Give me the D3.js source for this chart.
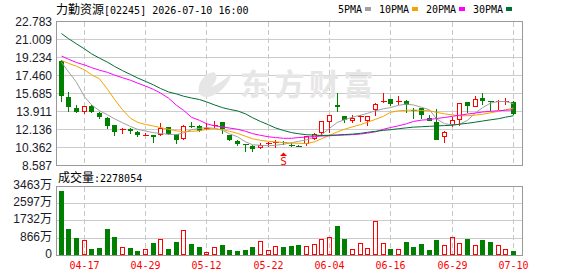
<!DOCTYPE html>
<html>
<head>
<meta charset="utf-8">
<script src="https://cdn.jsdelivr.net/npm/d3@7"></script>
<style>
  body { margin: 0; background: #fff; }
  svg { display: block; }
</style>
</head>
<body>
<div id="chart"></div>
<script>
// trading days shown on the chart
var dates = ["04-14","04-15","04-16","04-17","04-20","04-21","04-22","04-23","04-24","04-27",
  "04-28","04-29","04-30","05-04","05-05","05-06","05-07","05-08","05-11","05-12",
  "05-13","05-14","05-15","05-18","05-19","05-20","05-21","05-22","05-26","05-27",
  "05-28","05-29","06-01","06-02","06-03","06-04","06-05","06-08","06-09","06-10",
  "06-11","06-12","06-15","06-16","06-17","06-18","06-22","06-23","06-24","06-25",
  "06-26","06-29","06-30","07-02","07-03","07-06","07-07","07-08","07-09","07-10"];

var opens = [18.84,15.33,14.25,13.91,14.45,13.81,13.29,12.55,12.18,12.20,
  11.92,11.60,11.60,11.58,12.36,11.68,11.19,12.52,12.52,12.28,
  12.50,12.90,11.60,11.04,10.72,10.55,10.32,10.75,10.86,10.86,
  10.62,10.55,10.70,11.16,11.75,12.83,14.57,13.42,12.99,13.42,
  13.02,14.08,14.94,15.16,14.94,14.97,14.10,14.25,13.26,12.89,
  11.39,12.60,13.09,14.80,14.40,15.23,14.92,14.86,14.88,14.84];
var highs = [18.95,15.82,14.57,14.50,14.52,13.90,13.33,12.62,12.26,12.24,
  12.02,11.82,11.63,12.82,12.42,11.74,12.60,12.90,12.60,12.80,
  13.00,12.92,11.64,11.08,10.74,10.58,10.84,10.94,11.10,11.00,
  10.80,10.62,11.48,11.75,12.98,13.52,15.78,13.45,13.52,13.60,
  13.45,14.72,15.72,15.18,15.39,15.02,14.22,14.30,13.58,14.15,
  11.95,13.40,14.76,14.84,15.39,15.72,14.97,15.06,15.20,14.90];
var lows = [14.84,13.85,13.78,13.68,13.74,13.19,12.17,11.45,11.68,11.72,
  11.43,11.45,10.80,11.48,11.64,10.73,11.12,12.26,11.92,12.08,
  12.26,11.66,11.02,10.52,9.95,9.89,10.26,10.44,10.30,10.62,
  10.42,10.40,10.55,11.10,11.50,11.75,13.87,12.77,12.77,12.92,
  12.50,13.49,14.74,14.47,14.57,13.75,13.20,13.20,12.98,11.07,
  10.85,12.42,12.45,13.75,14.35,14.57,13.98,14.08,14.60,13.55];
var closes = [15.39,14.40,13.91,14.47,13.82,13.32,12.50,11.88,12.22,12.00,
  11.55,11.62,11.36,12.33,11.72,11.12,12.52,12.48,12.02,12.32,
  12.56,12.15,11.10,10.68,10.66,10.25,10.60,10.78,10.90,10.82,
  10.60,10.53,11.45,11.65,12.96,13.52,14.31,13.09,13.26,13.50,
  13.42,14.67,14.98,14.67,14.98,14.57,14.02,13.55,13.02,11.15,
  11.91,13.09,14.74,14.50,15.16,14.90,14.88,14.90,14.93,13.62];

// volume in 万 (10k shares)
var volumes = [3246,1328,888,772,318,384,1328,939,419,368,
  217,318,621,808,333,671,1262,570,434,151,
  419,520,268,217,268,419,722,252,469,419,
  469,520,469,555,823,924,1479,823,318,606,
  353,1731,606,318,318,671,419,570,268,772,
  520,924,636,823,520,772,671,520,318,227.8054];

var ma5 = [18.76,17.82,16.79,15.36,14.57,13.98,13.59,13.19,12.80,12.43,
  12.16,11.98,11.83,11.73,11.66,11.63,11.81,12.11,12.25,12.32,
  12.25,12.06,11.71,11.42,10.92,10.63,10.58,10.53,10.58,10.68,
  10.83,10.97,11.12,11.37,11.61,12.25,12.85,13.09,13.36,13.54,
  13.73,13.98,14.18,14.30,14.52,14.64,14.55,14.33,14.08,13.19,
  12.70,12.60,12.65,13.04,13.78,14.28,14.74,14.90,14.90,14.67];
var ma10 = [18.94,18.66,18.37,18.02,17.53,17.13,16.10,15.11,14.08,13.24,
  12.85,12.63,12.48,12.33,12.16,12.01,11.91,11.95,12.01,12.15,
  12.21,12.11,11.96,11.76,11.47,11.22,11.07,10.97,10.92,10.85,
  10.80,10.78,10.75,10.92,11.22,11.56,11.91,12.16,12.40,12.62,
  12.85,13.14,13.44,13.83,13.98,14.03,14.05,14.01,13.98,13.83,
  13.68,13.57,13.49,13.49,13.56,13.64,13.78,13.93,14.08,14.25];
var ma20 = [19.38,19.06,18.74,18.50,18.24,17.98,17.77,17.50,17.24,16.99,
  16.71,16.42,16.09,15.73,15.23,14.52,14.03,13.34,13.04,12.70,
  12.50,12.38,12.28,12.16,11.96,11.73,11.56,11.42,11.34,11.27,
  11.27,11.34,11.39,11.45,11.49,11.52,11.56,11.59,11.63,11.69,
  11.78,11.91,12.16,12.33,12.50,12.70,12.93,13.06,13.12,13.22,
  13.32,13.44,13.54,13.66,13.76,13.86,13.93,13.99,14.03,14.08];
var ma30 = [21.59,21.09,20.58,20.08,19.60,19.17,18.77,18.36,17.94,17.56,
  17.22,16.88,16.53,16.18,15.84,15.64,15.42,15.24,15.09,14.86,
  14.56,14.29,14.12,13.97,13.68,13.30,12.93,12.60,12.29,12.04,
  11.83,11.72,11.62,11.58,11.55,11.56,11.60,11.64,11.68,11.76,
  11.86,11.96,12.05,12.12,12.21,12.30,12.37,12.41,12.45,12.49,
  12.52,12.56,12.66,12.75,12.86,12.97,13.09,13.20,13.35,13.49];

var priceTicks = [8.587,10.362,12.136,13.911,15.685,17.460,19.234,21.009,22.783];
var volTicks = [0,866,1732,2597,3463];
var dateTicks = [3,11,19,27,35,43,51,59];
var maNames = ["5PMA","10PMA","20PMA","30PMA"];
var maColors = ["#a0a0a0","#f5a300","#ff00ff","#006f34"];

var svgWidth = 578, svgHeight = 276;
var left = 56.5, right = 522.5;
var priceTop = 21.5, priceBottom = 165.5;
var volTop = 186.5, volBottom = 255.5;
var red = "#ff0000", green = "#008000";
var monoFont = "'DejaVu Sans Mono', monospace";
var cjkFont = "'Noto Sans CJK SC', sans-serif";
var numFont = "'Liberation Sans', Arial, 'Noto Sans CJK SC', sans-serif";

var svg = d3.select("#chart").append("svg")
  .attr("width", svgWidth)
  .attr("height", svgHeight);

var x = d3.scaleLinear().domain([0, dates.length - 1]).range([60.7, 513.1]);
var y = d3.scaleLinear().domain([priceTicks[0], priceTicks[priceTicks.length - 1]]).range([priceBottom, priceTop]);
var yVol = d3.scaleLinear().domain([0, volTicks[volTicks.length - 1]]).range([volBottom, volTop]);
var px = function(i) { return Math.round(x(i)) + 0.5; };
var crisp = function(v) { return Math.floor(v) + 0.5; };

// grid
var grid = svg.append("g").attr("shape-rendering", "crispEdges");
grid.selectAll(".hp").data(priceTicks.slice(1, -1)).enter().append("line")
  .attr("x1", left).attr("x2", right)
  .attr("y1", d => crisp(y(d))).attr("y2", d => crisp(y(d)))
  .attr("stroke", "#cccccc");
grid.selectAll(".hv").data(volTicks.slice(1, -1)).enter().append("line")
  .attr("x1", left).attr("x2", right)
  .attr("y1", d => crisp(yVol(d))).attr("y2", d => crisp(yVol(d)))
  .attr("stroke", "#cccccc");
[[priceTop, priceBottom], [volTop, volBottom]].forEach(function(p) {
  grid.selectAll(null).data(dateTicks).enter().append("line")
    .attr("x1", d => px(d)).attr("x2", d => px(d))
    .attr("y1", p[0]).attr("y2", p[1])
    .attr("stroke", "#c8c8c8")
    .attr("stroke-dasharray", "5,3");
});

// watermark
var wm = svg.append("g").attr("fill", "#e6e6e6");
wm.append("path")
  .attr("d", "M214,72 C203,74 197,84 199,93 C201,98 208,98 214,95 C224,90 231,80 231,73 C226,79 219,84 211,87 C216,82 219,77 214,72 Z");
wm.append("text")
  .attr("x", 240).attr("y", 95)
  .attr("font-family", cjkFont).attr("font-size", 30).attr("font-weight", "bold")
  .attr("letter-spacing", 4.5)
  .text("东方财富");

// panel borders
svg.append("rect").attr("x", left).attr("y", priceTop)
  .attr("width", right - left).attr("height", priceBottom - priceTop)
  .attr("fill", "none").attr("stroke", "#999").attr("shape-rendering", "crispEdges");
svg.append("rect").attr("x", left).attr("y", volTop)
  .attr("width", right - left).attr("height", volBottom - volTop)
  .attr("fill", "none").attr("stroke", "#999").attr("shape-rendering", "crispEdges");

// candles
var candles = svg.append("g").attr("shape-rendering", "crispEdges");
dates.forEach(function(d, i) {
  var up = closes[i] >= opens[i];
  var color = up ? red : green;
  var cx = px(i);
  var yh = y(highs[i]), yl = y(lows[i]);
  var top = Math.round(Math.min(y(opens[i]), y(closes[i])));
  var bot = Math.round(Math.max(y(opens[i]), y(closes[i])));
  if (bot - top <= 1) {
    candles.append("line").attr("x1", cx).attr("x2", cx).attr("y1", yh).attr("y2", yl).attr("stroke", color);
    candles.append("line").attr("x1", cx - 3).attr("x2", cx + 3).attr("y1", top + 0.5).attr("y2", top + 0.5).attr("stroke", color);
  } else if (up) {
    candles.append("line").attr("x1", cx).attr("x2", cx).attr("y1", yh).attr("y2", top).attr("stroke", color);
    candles.append("line").attr("x1", cx).attr("x2", cx).attr("y1", bot).attr("y2", yl).attr("stroke", color);
    candles.append("rect").attr("x", cx - 2).attr("y", top + 0.5)
      .attr("width", 4).attr("height", bot - top - 1)
      .attr("fill", "#fff").attr("stroke", color);
  } else {
    candles.append("line").attr("x1", cx).attr("x2", cx).attr("y1", yh).attr("y2", yl).attr("stroke", color);
    candles.append("rect").attr("x", cx - 2.5).attr("y", top)
      .attr("width", 5).attr("height", bot - top)
      .attr("fill", color);
  }
});

// moving averages
var maLine = d3.line().x((d, i) => px(i)).y(d => y(d));
[ma5, ma10, ma20, ma30].forEach(function(series, k) {
  svg.append("path").datum(series)
    .attr("d", maLine)
    .attr("fill", "none")
    .attr("stroke", maColors[k])
    .attr("stroke-width", 1);
});

// marker under the candle of 05-27
var markIndex = 29;
svg.append("path")
  .attr("d", `M${px(markIndex)},152.5 L${px(markIndex) + 3.5},156 L${px(markIndex) - 3.5},156 Z`)
  .attr("fill", red);
svg.append("text")
  .attr("x", px(markIndex)).attr("y", 165)
  .attr("text-anchor", "middle")
  .attr("font-family", monoFont).attr("font-size", 11)
  .attr("fill", red)
  .text("S");

// volume bars
var vols = svg.append("g").attr("shape-rendering", "crispEdges");
volumes.forEach(function(v, i) {
  var up = closes[i] >= opens[i];
  var cx = px(i);
  var top = Math.round(yVol(v));
  if (up) {
    vols.append("rect").attr("x", cx - 2).attr("y", top + 0.5)
      .attr("width", 4).attr("height", Math.max(0, 255 - top - 1))
      .attr("fill", "none").attr("stroke", red);
  } else {
    vols.append("rect").attr("x", cx - 2.5).attr("y", top)
      .attr("width", 5).attr("height", 255 - top)
      .attr("fill", green);
  }
});

// axes
var priceAxis = svg.append("g")
  .attr("transform", `translate(${left - 0.5},0)`)
  .call(d3.axisLeft(y).tickValues(priceTicks).tickSize(0).tickPadding(4).tickFormat(d3.format(".3f")));
var volAxis = svg.append("g")
  .attr("transform", `translate(${left - 0.5},-2)`)
  .call(d3.axisLeft(yVol).tickValues(volTicks).tickSize(0).tickPadding(4)
    .tickFormat(d => d === 0 ? "0" : d + "万"));
[priceAxis, volAxis].forEach(function(a) {
  a.select(".domain").remove();
  a.selectAll("text").attr("font-family", numFont).attr("font-size", 12).attr("fill", "#1a1a2a");
});

var dateAxis = svg.append("g")
  .attr("transform", `translate(0,${volBottom})`)
  .call(d3.axisBottom(x).tickValues(dateTicks).tickSize(0).tickPadding(6).tickFormat(i => dates[i]));
dateAxis.select(".domain").remove();
dateAxis.selectAll(".tick").attr("transform", d => `translate(${px(d)},0)`);
dateAxis.selectAll("text").attr("font-family", monoFont).attr("font-size", 10).attr("fill", red);

// title
var title = svg.append("text").attr("x", 56).attr("y", 14).attr("fill", "#000");
title.append("tspan").attr("font-family", cjkFont).attr("font-size", 12).text("力勤资源");
title.append("tspan").attr("font-family", monoFont).attr("font-size", 10).text("[02245] 2026-07-10 16:00");

// legend
var lx = 338;
maNames.forEach(function(name, k) {
  svg.append("text").attr("x", lx).attr("y", 13)
    .attr("font-family", monoFont).attr("font-size", 10).attr("fill", "#000")
    .text(name);
  var sq = lx + name.length * 6 + 3;
  svg.append("rect").attr("x", sq).attr("y", 7).attr("width", 6).attr("height", 4)
    .attr("fill", maColors[k]);
  lx = sq + 6 + 8;
});

// volume label
var volLabel = svg.append("text").attr("x", 58).attr("y", 182).attr("fill", "#000");
volLabel.append("tspan").attr("font-family", cjkFont).attr("font-size", 12).text("成交量");
volLabel.append("tspan").attr("font-family", monoFont).attr("font-size", 10)
  .text(":" + Math.round(volumes[volumes.length - 1] * 10000));
</script>
</body>
</html>
